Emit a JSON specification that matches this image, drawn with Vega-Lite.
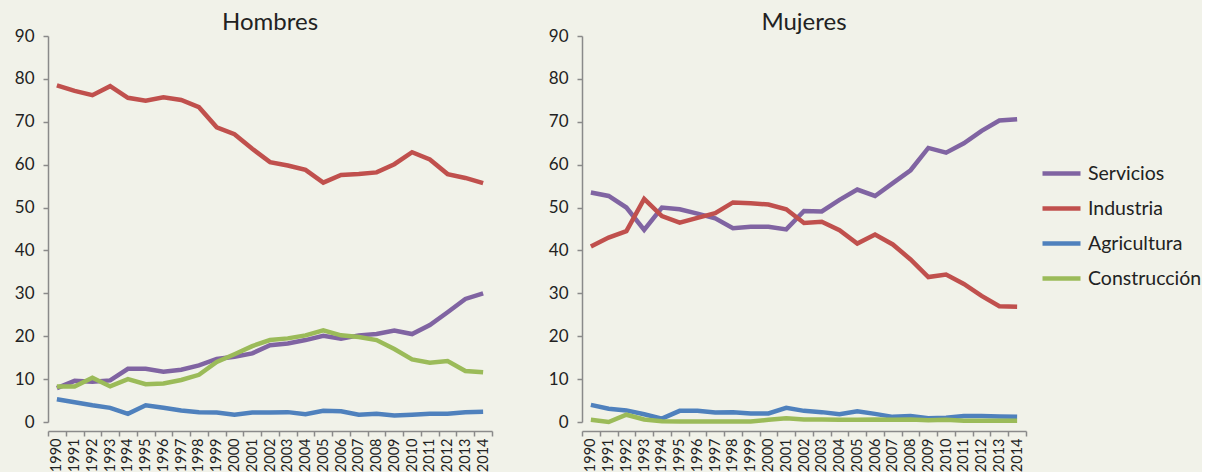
{
  "$schema": "https://vega.github.io/schema/vega-lite/v6.json",
  "background": "#f1f2e9",
  "padding": {"left": 14, "top": 11, "right": 0, "bottom": 0},
  "config": {
    "font": "Lato",
    "view": {"stroke": null},
    "axis": {"domainColor": "#8a8a8a", "tickColor": "#8a8a8a", "labelColor": "#222222", "grid": false, "title": null, "domainWidth": 1.5, "tickWidth": 1.5}
  },
  "data": {"values": [
    {"g":"Hombres","k":"Industria","t":"1990","v":78.5},{"g":"Hombres","k":"Industria","t":"1991","v":77.2},{"g":"Hombres","k":"Industria","t":"1992","v":76.2},{"g":"Hombres","k":"Industria","t":"1993","v":78.3},{"g":"Hombres","k":"Industria","t":"1994","v":75.6},{"g":"Hombres","k":"Industria","t":"1995","v":74.9},{"g":"Hombres","k":"Industria","t":"1996","v":75.7},{"g":"Hombres","k":"Industria","t":"1997","v":75.1},{"g":"Hombres","k":"Industria","t":"1998","v":73.4},{"g":"Hombres","k":"Industria","t":"1999","v":68.7},{"g":"Hombres","k":"Industria","t":"2000","v":67.1},{"g":"Hombres","k":"Industria","t":"2001","v":63.7},{"g":"Hombres","k":"Industria","t":"2002","v":60.6},{"g":"Hombres","k":"Industria","t":"2003","v":59.8},{"g":"Hombres","k":"Industria","t":"2004","v":58.8},{"g":"Hombres","k":"Industria","t":"2005","v":55.8},{"g":"Hombres","k":"Industria","t":"2006","v":57.6},{"g":"Hombres","k":"Industria","t":"2007","v":57.8},{"g":"Hombres","k":"Industria","t":"2008","v":58.2},{"g":"Hombres","k":"Industria","t":"2009","v":60.1},{"g":"Hombres","k":"Industria","t":"2010","v":62.9},{"g":"Hombres","k":"Industria","t":"2011","v":61.2},{"g":"Hombres","k":"Industria","t":"2012","v":57.8},{"g":"Hombres","k":"Industria","t":"2013","v":56.9},{"g":"Hombres","k":"Industria","t":"2014","v":55.7},
    {"g":"Hombres","k":"Servicios","t":"1990","v":7.9},{"g":"Hombres","k":"Servicios","t":"1991","v":9.6},{"g":"Hombres","k":"Servicios","t":"1992","v":9.4},{"g":"Hombres","k":"Servicios","t":"1993","v":9.7},{"g":"Hombres","k":"Servicios","t":"1994","v":12.4},{"g":"Hombres","k":"Servicios","t":"1995","v":12.4},{"g":"Hombres","k":"Servicios","t":"1996","v":11.7},{"g":"Hombres","k":"Servicios","t":"1997","v":12.2},{"g":"Hombres","k":"Servicios","t":"1998","v":13.2},{"g":"Hombres","k":"Servicios","t":"1999","v":14.7},{"g":"Hombres","k":"Servicios","t":"2000","v":15.2},{"g":"Hombres","k":"Servicios","t":"2001","v":16.0},{"g":"Hombres","k":"Servicios","t":"2002","v":17.9},{"g":"Hombres","k":"Servicios","t":"2003","v":18.3},{"g":"Hombres","k":"Servicios","t":"2004","v":19.1},{"g":"Hombres","k":"Servicios","t":"2005","v":20.1},{"g":"Hombres","k":"Servicios","t":"2006","v":19.4},{"g":"Hombres","k":"Servicios","t":"2007","v":20.2},{"g":"Hombres","k":"Servicios","t":"2008","v":20.5},{"g":"Hombres","k":"Servicios","t":"2009","v":21.3},{"g":"Hombres","k":"Servicios","t":"2010","v":20.5},{"g":"Hombres","k":"Servicios","t":"2011","v":22.6},{"g":"Hombres","k":"Servicios","t":"2012","v":25.6},{"g":"Hombres","k":"Servicios","t":"2013","v":28.7},{"g":"Hombres","k":"Servicios","t":"2014","v":30.0},
    {"g":"Hombres","k":"Construcción","t":"1990","v":8.3},{"g":"Hombres","k":"Construcción","t":"1991","v":8.3},{"g":"Hombres","k":"Construcción","t":"1992","v":10.3},{"g":"Hombres","k":"Construcción","t":"1993","v":8.3},{"g":"Hombres","k":"Construcción","t":"1994","v":10.0},{"g":"Hombres","k":"Construcción","t":"1995","v":8.8},{"g":"Hombres","k":"Construcción","t":"1996","v":9.0},{"g":"Hombres","k":"Construcción","t":"1997","v":9.8},{"g":"Hombres","k":"Construcción","t":"1998","v":11.0},{"g":"Hombres","k":"Construcción","t":"1999","v":14.0},{"g":"Hombres","k":"Construcción","t":"2000","v":15.8},{"g":"Hombres","k":"Construcción","t":"2001","v":17.7},{"g":"Hombres","k":"Construcción","t":"2002","v":19.1},{"g":"Hombres","k":"Construcción","t":"2003","v":19.5},{"g":"Hombres","k":"Construcción","t":"2004","v":20.2},{"g":"Hombres","k":"Construcción","t":"2005","v":21.4},{"g":"Hombres","k":"Construcción","t":"2006","v":20.2},{"g":"Hombres","k":"Construcción","t":"2007","v":19.8},{"g":"Hombres","k":"Construcción","t":"2008","v":19.1},{"g":"Hombres","k":"Construcción","t":"2009","v":17.0},{"g":"Hombres","k":"Construcción","t":"2010","v":14.6},{"g":"Hombres","k":"Construcción","t":"2011","v":13.8},{"g":"Hombres","k":"Construcción","t":"2012","v":14.2},{"g":"Hombres","k":"Construcción","t":"2013","v":11.9},{"g":"Hombres","k":"Construcción","t":"2014","v":11.6},
    {"g":"Hombres","k":"Agricultura","t":"1990","v":5.3},{"g":"Hombres","k":"Agricultura","t":"1991","v":4.6},{"g":"Hombres","k":"Agricultura","t":"1992","v":3.9},{"g":"Hombres","k":"Agricultura","t":"1993","v":3.3},{"g":"Hombres","k":"Agricultura","t":"1994","v":1.9},{"g":"Hombres","k":"Agricultura","t":"1995","v":3.9},{"g":"Hombres","k":"Agricultura","t":"1996","v":3.3},{"g":"Hombres","k":"Agricultura","t":"1997","v":2.7},{"g":"Hombres","k":"Agricultura","t":"1998","v":2.3},{"g":"Hombres","k":"Agricultura","t":"1999","v":2.2},{"g":"Hombres","k":"Agricultura","t":"2000","v":1.7},{"g":"Hombres","k":"Agricultura","t":"2001","v":2.2},{"g":"Hombres","k":"Agricultura","t":"2002","v":2.2},{"g":"Hombres","k":"Agricultura","t":"2003","v":2.3},{"g":"Hombres","k":"Agricultura","t":"2004","v":1.8},{"g":"Hombres","k":"Agricultura","t":"2005","v":2.6},{"g":"Hombres","k":"Agricultura","t":"2006","v":2.5},{"g":"Hombres","k":"Agricultura","t":"2007","v":1.7},{"g":"Hombres","k":"Agricultura","t":"2008","v":1.9},{"g":"Hombres","k":"Agricultura","t":"2009","v":1.5},{"g":"Hombres","k":"Agricultura","t":"2010","v":1.7},{"g":"Hombres","k":"Agricultura","t":"2011","v":1.9},{"g":"Hombres","k":"Agricultura","t":"2012","v":1.9},{"g":"Hombres","k":"Agricultura","t":"2013","v":2.3},{"g":"Hombres","k":"Agricultura","t":"2014","v":2.4},
    {"g":"Mujeres","k":"Servicios","t":"1990","v":53.5},{"g":"Mujeres","k":"Servicios","t":"1991","v":52.7},{"g":"Mujeres","k":"Servicios","t":"1992","v":50.0},{"g":"Mujeres","k":"Servicios","t":"1993","v":44.8},{"g":"Mujeres","k":"Servicios","t":"1994","v":50.0},{"g":"Mujeres","k":"Servicios","t":"1995","v":49.6},{"g":"Mujeres","k":"Servicios","t":"1996","v":48.6},{"g":"Mujeres","k":"Servicios","t":"1997","v":47.5},{"g":"Mujeres","k":"Servicios","t":"1998","v":45.2},{"g":"Mujeres","k":"Servicios","t":"1999","v":45.5},{"g":"Mujeres","k":"Servicios","t":"2000","v":45.5},{"g":"Mujeres","k":"Servicios","t":"2001","v":44.9},{"g":"Mujeres","k":"Servicios","t":"2002","v":49.2},{"g":"Mujeres","k":"Servicios","t":"2003","v":49.1},{"g":"Mujeres","k":"Servicios","t":"2004","v":51.8},{"g":"Mujeres","k":"Servicios","t":"2005","v":54.2},{"g":"Mujeres","k":"Servicios","t":"2006","v":52.7},{"g":"Mujeres","k":"Servicios","t":"2007","v":55.7},{"g":"Mujeres","k":"Servicios","t":"2008","v":58.7},{"g":"Mujeres","k":"Servicios","t":"2009","v":63.9},{"g":"Mujeres","k":"Servicios","t":"2010","v":62.8},{"g":"Mujeres","k":"Servicios","t":"2011","v":65.0},{"g":"Mujeres","k":"Servicios","t":"2012","v":67.9},{"g":"Mujeres","k":"Servicios","t":"2013","v":70.3},{"g":"Mujeres","k":"Servicios","t":"2014","v":70.6},
    {"g":"Mujeres","k":"Industria","t":"1990","v":40.9},{"g":"Mujeres","k":"Industria","t":"1991","v":43.0},{"g":"Mujeres","k":"Industria","t":"1992","v":44.5},{"g":"Mujeres","k":"Industria","t":"1993","v":52.0},{"g":"Mujeres","k":"Industria","t":"1994","v":48.0},{"g":"Mujeres","k":"Industria","t":"1995","v":46.5},{"g":"Mujeres","k":"Industria","t":"1996","v":47.6},{"g":"Mujeres","k":"Industria","t":"1997","v":48.7},{"g":"Mujeres","k":"Industria","t":"1998","v":51.2},{"g":"Mujeres","k":"Industria","t":"1999","v":51.0},{"g":"Mujeres","k":"Industria","t":"2000","v":50.7},{"g":"Mujeres","k":"Industria","t":"2001","v":49.6},{"g":"Mujeres","k":"Industria","t":"2002","v":46.4},{"g":"Mujeres","k":"Industria","t":"2003","v":46.7},{"g":"Mujeres","k":"Industria","t":"2004","v":44.7},{"g":"Mujeres","k":"Industria","t":"2005","v":41.6},{"g":"Mujeres","k":"Industria","t":"2006","v":43.7},{"g":"Mujeres","k":"Industria","t":"2007","v":41.4},{"g":"Mujeres","k":"Industria","t":"2008","v":37.9},{"g":"Mujeres","k":"Industria","t":"2009","v":33.8},{"g":"Mujeres","k":"Industria","t":"2010","v":34.4},{"g":"Mujeres","k":"Industria","t":"2011","v":32.2},{"g":"Mujeres","k":"Industria","t":"2012","v":29.4},{"g":"Mujeres","k":"Industria","t":"2013","v":27.0},{"g":"Mujeres","k":"Industria","t":"2014","v":26.9},
    {"g":"Mujeres","k":"Agricultura","t":"1990","v":4.0},{"g":"Mujeres","k":"Agricultura","t":"1991","v":3.1},{"g":"Mujeres","k":"Agricultura","t":"1992","v":2.7},{"g":"Mujeres","k":"Agricultura","t":"1993","v":1.8},{"g":"Mujeres","k":"Agricultura","t":"1994","v":0.8},{"g":"Mujeres","k":"Agricultura","t":"1995","v":2.6},{"g":"Mujeres","k":"Agricultura","t":"1996","v":2.6},{"g":"Mujeres","k":"Agricultura","t":"1997","v":2.2},{"g":"Mujeres","k":"Agricultura","t":"1998","v":2.3},{"g":"Mujeres","k":"Agricultura","t":"1999","v":2.0},{"g":"Mujeres","k":"Agricultura","t":"2000","v":2.0},{"g":"Mujeres","k":"Agricultura","t":"2001","v":3.3},{"g":"Mujeres","k":"Agricultura","t":"2002","v":2.6},{"g":"Mujeres","k":"Agricultura","t":"2003","v":2.3},{"g":"Mujeres","k":"Agricultura","t":"2004","v":1.8},{"g":"Mujeres","k":"Agricultura","t":"2005","v":2.5},{"g":"Mujeres","k":"Agricultura","t":"2006","v":1.9},{"g":"Mujeres","k":"Agricultura","t":"2007","v":1.2},{"g":"Mujeres","k":"Agricultura","t":"2008","v":1.4},{"g":"Mujeres","k":"Agricultura","t":"2009","v":0.9},{"g":"Mujeres","k":"Agricultura","t":"2010","v":1.0},{"g":"Mujeres","k":"Agricultura","t":"2011","v":1.4},{"g":"Mujeres","k":"Agricultura","t":"2012","v":1.4},{"g":"Mujeres","k":"Agricultura","t":"2013","v":1.3},{"g":"Mujeres","k":"Agricultura","t":"2014","v":1.2},
    {"g":"Mujeres","k":"Construcción","t":"1990","v":0.5},{"g":"Mujeres","k":"Construcción","t":"1991","v":0.0},{"g":"Mujeres","k":"Construcción","t":"1992","v":1.7},{"g":"Mujeres","k":"Construcción","t":"1993","v":0.6},{"g":"Mujeres","k":"Construcción","t":"1994","v":0.2},{"g":"Mujeres","k":"Construcción","t":"1995","v":0.1},{"g":"Mujeres","k":"Construcción","t":"1996","v":0.1},{"g":"Mujeres","k":"Construcción","t":"1997","v":0.1},{"g":"Mujeres","k":"Construcción","t":"1998","v":0.1},{"g":"Mujeres","k":"Construcción","t":"1999","v":0.1},{"g":"Mujeres","k":"Construcción","t":"2000","v":0.5},{"g":"Mujeres","k":"Construcción","t":"2001","v":0.9},{"g":"Mujeres","k":"Construcción","t":"2002","v":0.6},{"g":"Mujeres","k":"Construcción","t":"2003","v":0.6},{"g":"Mujeres","k":"Construcción","t":"2004","v":0.5},{"g":"Mujeres","k":"Construcción","t":"2005","v":0.5},{"g":"Mujeres","k":"Construcción","t":"2006","v":0.6},{"g":"Mujeres","k":"Construcción","t":"2007","v":0.5},{"g":"Mujeres","k":"Construcción","t":"2008","v":0.6},{"g":"Mujeres","k":"Construcción","t":"2009","v":0.4},{"g":"Mujeres","k":"Construcción","t":"2010","v":0.5},{"g":"Mujeres","k":"Construcción","t":"2011","v":0.3},{"g":"Mujeres","k":"Construcción","t":"2012","v":0.3},{"g":"Mujeres","k":"Construcción","t":"2013","v":0.3},{"g":"Mujeres","k":"Construcción","t":"2014","v":0.3}
  ]},
  "facet": {
    "column": {"field": "g", "type": "nominal", "sort": ["Hombres", "Mujeres"], "title": null,
      "header": {"labelFontSize": 24, "labelColor": "#222222", "labelFont": "Lato", "labelPadding": -8}}
  },
  "spacing": 55,
  "resolve": {"axis": {"y": "independent"}},
  "spec": {
    "width": 444,
    "height": 386,
    "mark": {"type": "line", "strokeWidth": 4.5},
    "encoding": {
      "x": {"field": "t", "type": "ordinal", "bandPosition": 0.5,
        "scale": {"type": "band", "paddingInner": 0, "paddingOuter": 0},
        "axis": {"labelAngle": -90, "labelFontSize": 14.5, "labelOverlap": false, "tickBand": "extent", "tickSize": 5, "labelPadding": 2, "labelBaseline": "middle"}},
      "y": {"field": "v", "type": "quantitative",
        "scale": {"domain": [0, 90], "nice": false},
        "axis": {"values": [0,10,20,30,40,50,60,70,80,90], "labelFontSize": 17, "tickSize": 5, "labelPadding": 9}},
      "color": {"field": "k", "type": "nominal",
        "scale": {"domain": ["Servicios", "Industria", "Agricultura", "Construcción"], "range": ["#8064a2", "#c0504d", "#4f81bd", "#9bbb59"]},
        "legend": {"title": null, "orient": "none", "legendX": 992, "legendY": 116, "symbolType": "stroke", "symbolStrokeWidth": 4.5, "symbolSize": 1444, "labelFontSize": 19.5, "labelColor": "#222222", "rowPadding": 4, "labelOffset": 5, "padding": 0}}
    }
  }
}
